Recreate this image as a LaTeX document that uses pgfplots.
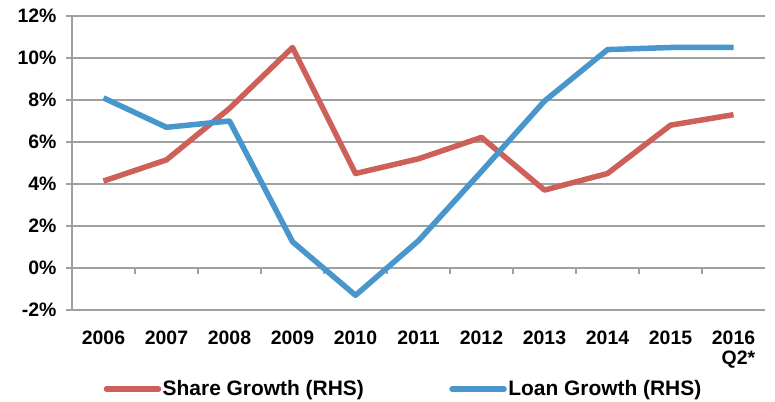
\documentclass[border=0pt]{standalone}
\usepackage{pgfplots}
\pgfplotsset{compat=1.18}
\usepackage{fontspec}
\setmainfont{Liberation Sans}
\definecolor{redl}{RGB}{206,96,90}
\definecolor{bluel}{RGB}{72,150,204}
\definecolor{gridc}{RGB}{160,160,160}
\begin{document}
\begin{tikzpicture}
\useasboundingbox (-72bp,-92bp) rectangle (703bp,310bp);
\begin{axis}[
  at={(0,0)}, anchor=south west,
  scale only axis, width=693bp, height=294bp,
  xmin=-0.5, xmax=10.5, ymin=-2, ymax=12,
  xtick={0,...,10},
  xticklabels={2006,2007,2008,2009,2010,2011,2012,2013,2014,2015,{2016\\Q2*}},
  xticklabel style={align=right, yshift=-11bp},
  major x tick style={draw=none},
  ytick={-2,0,2,4,6,8,10,12},
  yticklabels={-2\%,0\%,2\%,4\%,6\%,8\%,10\%,12\%},
  ymajorgrids, grid style={gridc, line width=1.6bp},
  axis line style={gridc, line width=1.6bp},
  axis x line*=bottom, axis y line*=left,
  y axis line style={-}, x axis line style={-},
  ytick style={gridc, line width=1.6bp},
  tick align=outside, major tick length=6bp,
  ticklabel style={font=\bfseries\fontsize{19.5}{20}\selectfont},
  yticklabel style={xshift=-6bp},
  clip=false,
  legend style={at={(0.478,-0.269)}, anchor=center, draw=none, fill=none,
    legend columns=2, font=\bfseries\fontsize{21}{24}\selectfont,
    nodes={inner sep=1.5bp},
    /tikz/every even column/.append style={column sep=84bp}},
  legend image code/.code={\draw[#1, line width=5.5bp, line cap=round] (0bp,0bp) -- (52bp,0bp);},
]
\pgfplotsinvokeforeach{0.5,1.5,2.5,3.5,4.5,5.5,6.5,7.5,8.5,9.5}{
  \draw[gridc, line width=1.6bp] (axis cs:#1,0) -- ([yshift=-6bp]axis cs:#1,0);
}
\addplot[redl, line width=5.5bp, line join=round] coordinates {
(0,4.14) (1,5.15) (2,7.6) (3,10.5) (4,4.5) (5,5.2) (6,6.22) (7,3.71) (8,4.5) (9,6.8) (10,7.3)};
\addlegendentry{Share Growth (RHS)}
\addplot[bluel, line width=5.5bp, line join=round] coordinates {
(0,8.1) (1,6.7) (2,7.0) (3,1.25) (4,-1.3) (5,1.3) (6,4.6) (7,7.95) (8,10.4) (9,10.5) (10,10.5)};
\addlegendentry{Loan Growth (RHS)}
\end{axis}
\end{tikzpicture}
\end{document}
